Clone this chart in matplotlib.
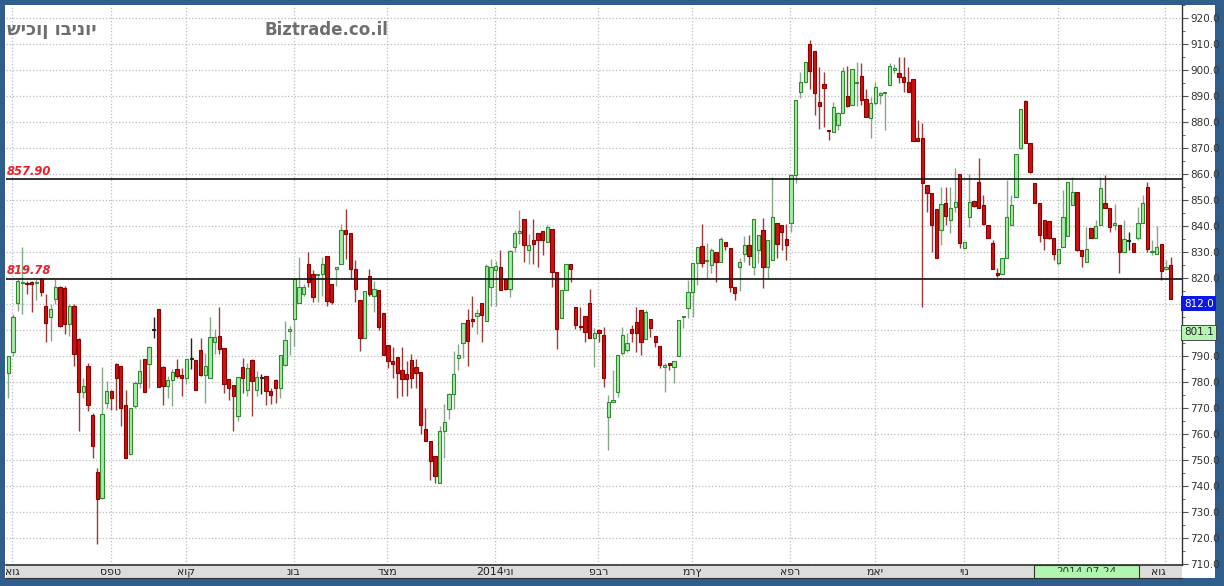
import matplotlib
matplotlib.use('Agg')
import matplotlib.pyplot as plt
from matplotlib.patches import Rectangle
from matplotlib.transforms import Bbox, blended_transform_factory
from matplotlib.ticker import MultipleLocator

# daily candles, Aug 2013 - Aug 2014
opens = [
    783.3, 791.7, 810.4, 818.0, 818.0, 818.6, 818.0, 819.7, 809.4, 804.8,
    811.9, 816.5, 816.0, 802.3, 809.4, 796.7, 776.2, 786.1, 767.4, 745.2,
    735.2, 771.9, 776.7, 787.0, 786.1, 771.3, 752.2, 770.6, 779.7, 788.7,
    787.0, 800.0, 808.0, 785.9, 778.4, 780.6, 784.8, 782.5, 781.4, 788.7,
    788.4, 792.3, 782.6, 781.4, 795.2, 797.5, 793.2, 781.2, 779.0, 766.8,
    785.7, 777.1, 788.4, 777.1, 781.4, 782.3, 776.7, 780.6, 777.7, 786.5,
    799.5, 804.2, 810.3, 813.9, 825.5, 821.6, 821.0, 821.6, 828.3, 817.5,
    823.5, 825.5, 838.3, 837.3, 823.5, 811.6, 796.9, 820.6, 813.2, 815.2,
    806.5, 794.3, 788.1, 789.7, 784.5, 783.2, 788.4, 785.8, 783.9, 761.8,
    757.2, 751.5, 741.2, 761.1, 769.5, 775.3, 789.4, 794.8, 803.8, 804.2,
    805.5, 810.3, 803.6, 816.5, 823.0, 824.2, 819.7, 815.8, 831.9, 837.3,
    842.8, 830.6, 834.7, 837.3, 838.0, 833.8, 839.0, 822.2, 804.6, 815.2,
    825.5, 809.0, 801.3, 805.5, 810.3, 797.0, 800.0, 798.0, 766.7, 772.4,
    776.3, 791.0, 792.3, 800.3, 803.2, 807.7, 796.4, 804.1, 797.7, 793.8,
    785.6, 787.4, 785.9, 790.0, 804.9, 808.3, 814.7, 825.6, 832.3, 826.4,
    825.0, 830.1, 826.3, 834.0, 831.4, 816.4, 824.1, 829.2, 832.7, 824.1,
    830.8, 838.5, 824.1, 826.9, 841.3, 840.4, 834.9, 841.3, 859.6, 891.7,
    895.5, 910.0, 907.4, 887.8, 894.6, 876.9, 876.3, 878.8, 883.3, 890.0,
    886.5, 895.0, 897.7, 888.7, 881.4, 887.4, 890.4, 891.2, 894.2, 900.0,
    898.7, 897.4, 895.5, 896.4, 873.7, 873.7, 855.8, 852.8, 846.4, 838.5,
    849.0, 842.3, 847.2, 860.0, 831.4, 843.3, 849.7, 857.0, 848.1, 840.4,
    833.6, 822.0, 821.5, 827.6, 840.4, 851.3, 869.9, 888.2, 871.8, 856.7,
    849.0, 842.3, 842.0, 835.3, 825.6, 831.8, 836.2, 848.1, 853.2, 830.8,
    826.3, 839.1, 835.3, 840.4, 849.0, 846.8, 840.4, 840.4, 830.1, 834.2,
    833.3, 835.3, 841.3, 855.1, 830.0, 829.2, 833.0, 823.6, 825.0,
]
highs = [
    790.0, 806.0, 819.7, 832.0, 819.0, 819.0, 819.7, 820.0, 813.9, 810.0,
    819.7, 817.0, 817.0, 810.0, 810.0, 797.0, 781.6, 787.4, 768.0, 747.0,
    785.7, 780.3, 777.1, 787.4, 786.1, 777.1, 770.0, 780.3, 788.7, 788.7,
    793.9, 804.8, 808.0, 786.1, 782.3, 784.8, 788.7, 785.5, 788.7, 797.1,
    788.4, 797.1, 791.3, 804.8, 800.3, 808.7, 793.2, 781.2, 779.0, 781.9,
    789.4, 787.4, 789.0, 784.2, 783.0, 782.3, 777.7, 781.0, 790.4, 803.5,
    801.6, 819.7, 828.1, 817.7, 830.0, 822.9, 821.6, 828.0, 828.3, 817.5,
    824.2, 840.6, 846.4, 837.3, 827.0, 811.6, 814.9, 823.5, 819.0, 815.2,
    806.5, 794.3, 793.3, 789.7, 793.3, 788.1, 790.7, 788.8, 783.9, 770.1,
    757.2, 751.5, 763.0, 771.4, 775.9, 792.0, 794.6, 802.5, 808.1, 813.2,
    808.1, 810.3, 825.5, 827.4, 826.7, 830.6, 819.7, 830.6, 838.3, 846.0,
    842.8, 837.0, 842.8, 837.3, 838.0, 840.3, 839.0, 822.2, 815.4, 825.5,
    825.5, 809.0, 809.0, 805.5, 815.8, 800.6, 800.3, 801.3, 775.0, 784.6,
    790.4, 801.3, 798.7, 801.9, 808.9, 807.7, 807.7, 804.1, 797.7, 793.8,
    787.2, 787.4, 788.2, 803.8, 805.4, 819.2, 825.9, 832.1, 840.8, 833.3,
    831.4, 830.1, 835.6, 834.0, 831.4, 816.4, 827.6, 836.2, 836.5, 842.6,
    836.5, 843.0, 834.6, 858.7, 841.3, 840.4, 840.8, 859.6, 888.5, 899.4,
    903.2, 911.5, 907.4, 901.0, 899.4, 876.9, 887.8, 884.0, 901.3, 901.5,
    900.3, 903.2, 902.8, 892.6, 889.7, 895.5, 891.7, 891.7, 902.6, 902.3,
    905.1, 905.1, 901.0, 896.4, 880.8, 879.5, 855.8, 852.8, 846.4, 855.1,
    855.1, 855.1, 862.2, 860.0, 834.0, 860.0, 849.7, 866.0, 851.9, 840.4,
    834.6, 823.7, 827.6, 857.7, 851.9, 867.7, 884.9, 888.5, 871.8, 856.7,
    849.0, 842.3, 842.0, 835.3, 831.0, 853.8, 857.0, 859.0, 853.2, 830.8,
    839.7, 839.1, 842.3, 859.0, 859.6, 846.8, 848.5, 840.4, 842.3, 837.8,
    833.3, 847.4, 851.9, 857.0, 834.6, 840.0, 833.0, 826.9, 828.0,
]
lows = [
    773.9, 790.0, 807.4, 806.0, 813.9, 807.0, 811.7, 813.0, 795.2, 795.8,
    810.0, 801.0, 798.4, 797.7, 786.0, 761.0, 773.9, 768.7, 750.9, 717.7,
    735.0, 770.0, 769.4, 769.4, 762.9, 750.6, 752.0, 770.0, 777.7, 776.2,
    777.7, 797.1, 778.1, 771.3, 773.9, 770.6, 781.6, 774.5, 779.3, 784.8,
    777.1, 782.3, 771.9, 781.4, 790.9, 790.6, 775.8, 773.2, 761.0, 764.8,
    775.8, 774.5, 766.8, 774.5, 775.2, 771.3, 771.6, 771.9, 773.9, 786.0,
    790.4, 794.0, 810.3, 813.2, 816.4, 810.7, 810.7, 813.2, 809.4, 810.0,
    817.1, 825.5, 827.4, 819.7, 810.7, 792.0, 796.9, 813.2, 806.8, 800.0,
    790.4, 785.3, 781.7, 774.0, 774.6, 774.6, 777.8, 777.8, 759.8, 757.2,
    742.4, 741.2, 741.2, 750.8, 765.6, 769.5, 784.5, 789.4, 786.2, 801.0,
    798.4, 795.2, 803.6, 809.4, 809.4, 815.2, 815.2, 812.6, 830.0, 833.2,
    826.1, 825.5, 825.5, 824.2, 828.7, 833.8, 816.4, 792.6, 804.6, 815.2,
    818.4, 800.4, 799.8, 795.2, 797.1, 785.6, 795.5, 778.2, 753.8, 772.4,
    774.4, 790.4, 791.7, 795.5, 791.7, 790.4, 796.4, 797.4, 793.6, 785.3,
    776.3, 784.6, 779.5, 790.0, 800.6, 804.5, 805.1, 817.3, 824.4, 819.9,
    821.8, 818.6, 826.3, 830.8, 814.7, 811.5, 815.1, 826.3, 825.0, 821.2,
    825.6, 816.0, 819.9, 826.9, 827.6, 830.8, 826.9, 837.8, 856.4, 889.1,
    895.5, 892.6, 882.7, 877.2, 878.2, 873.1, 876.3, 876.9, 883.3, 885.9,
    886.5, 886.0, 886.5, 881.8, 873.7, 886.5, 886.9, 876.9, 894.2, 898.7,
    894.9, 891.7, 891.7, 872.8, 872.7, 809.0, 845.5, 830.1, 827.6, 832.7,
    840.4, 837.2, 845.5, 831.4, 831.4, 839.5, 847.4, 846.8, 840.4, 835.3,
    823.3, 820.3, 821.5, 827.6, 840.4, 851.3, 869.6, 871.8, 860.3, 848.7,
    834.0, 830.8, 835.0, 826.9, 825.0, 831.8, 836.2, 848.1, 830.5, 824.4,
    826.3, 835.3, 835.3, 840.4, 846.8, 837.8, 838.5, 821.8, 830.1, 830.8,
    830.1, 834.6, 841.3, 830.1, 828.8, 829.2, 819.2, 823.1, 812.0,
]
closes = [
    790.0, 805.1, 818.8, 818.4, 817.5, 817.8, 818.5, 814.5, 802.6, 808.0,
    816.5, 801.6, 802.3, 809.1, 790.6, 776.2, 778.6, 771.0, 755.2, 734.9,
    767.8, 776.7, 773.9, 781.4, 770.0, 750.6, 770.0, 779.7, 784.2, 776.2,
    793.6, 800.0, 778.1, 778.4, 780.6, 783.8, 782.3, 781.4, 788.7, 788.7,
    777.1, 782.5, 786.0, 797.4, 797.4, 792.6, 779.3, 777.7, 774.5, 781.9,
    781.6, 785.5, 780.3, 781.9, 781.4, 776.7, 774.9, 777.7, 790.4, 796.2,
    800.5, 819.7, 816.5, 816.7, 818.4, 812.6, 821.6, 825.5, 811.3, 810.7,
    824.2, 838.3, 837.0, 823.5, 815.8, 796.9, 814.9, 813.9, 815.8, 801.3,
    790.4, 788.1, 786.8, 783.6, 781.1, 781.1, 781.7, 783.6, 763.4, 757.2,
    749.5, 743.7, 761.1, 764.7, 775.3, 783.0, 790.4, 802.5, 795.8, 803.5,
    806.5, 805.8, 824.8, 824.2, 824.8, 815.2, 815.8, 830.3, 837.3, 838.0,
    832.5, 832.5, 833.2, 834.7, 834.5, 839.6, 822.2, 800.4, 815.4, 825.5,
    823.5, 802.0, 801.0, 799.1, 797.1, 799.0, 798.7, 781.4, 772.4, 773.0,
    790.4, 798.0, 794.9, 799.0, 798.7, 795.5, 807.1, 800.6, 795.5, 786.5,
    786.5, 786.5, 788.2, 803.8, 805.4, 814.7, 825.9, 832.1, 825.9, 827.1,
    830.8, 826.3, 834.9, 832.3, 816.4, 814.4, 826.3, 832.7, 828.5, 842.6,
    836.5, 824.1, 834.6, 843.6, 833.0, 837.6, 832.7, 859.6, 888.5, 895.5,
    903.2, 899.7, 891.0, 886.2, 892.9, 876.5, 885.9, 883.3, 899.7, 886.2,
    900.3, 895.2, 888.5, 882.0, 887.4, 893.3, 891.0, 891.4, 901.5, 900.6,
    897.4, 895.5, 891.7, 872.8, 872.7, 856.4, 852.6, 840.4, 827.6, 848.5,
    843.8, 846.8, 849.4, 833.3, 834.0, 849.4, 847.8, 846.8, 840.8, 835.3,
    823.3, 821.2, 827.6, 843.3, 848.1, 867.7, 884.9, 871.8, 860.9, 848.7,
    836.5, 835.3, 835.3, 829.2, 831.0, 843.3, 857.0, 853.2, 830.8, 828.5,
    831.0, 835.3, 840.0, 854.5, 846.8, 839.7, 841.0, 830.1, 834.9, 834.2,
    830.1, 841.0, 849.0, 831.0, 830.5, 832.1, 822.8, 824.4, 812.0,
]

month_starts = [1, 22, 38, 61, 81, 104, 126, 146, 167, 185, 204, 224, 247]
month_labels = ['אוג', 'ספט', 'אוק', 'נוב', 'דצמ', '2014ינו', 'פבר', 'מרץ',
                'אפר', 'מאי', 'יונ', 'יול', 'אוג']
levels = [857.90, 819.78]
last_price = 812.0
ma_value = 801.1
cursor_date = '2014-07-24'

W, H = 1224, 586
BLUE = '#2f5d8c'
fig = plt.figure(figsize=(W / 100, H / 100), dpi=100, facecolor=BLUE)
fig.add_artist(Rectangle((5 / W, 8 / H), 1210 / W, 573 / H, transform=fig.transFigure,
                         facecolor='white', edgecolor='none', zorder=-10))

ax = fig.add_axes([6 / W, 21 / H, 1176 / W, 560 / H])
ax.set_facecolor('white')
n = len(closes)

for i in range(n):
    o, h, l, c = opens[i], highs[i], lows[i], closes[i]
    if abs(c - o) < 0.05:
        face, edge, wick = '#222222', '#222222', '#222222'
    elif c > o:
        face, edge, wick = '#a6eaa6', '#2e8b2e', '#86a886'
    else:
        face, edge, wick = '#cc1111', '#8e0000', '#9a3a3a'
    ax.vlines(i, l, h, color=wick, lw=1, zorder=2)
    ax.bar(i, max(abs(c - o), 0.4), bottom=min(o, c), width=0.7,
           color=face, edgecolor=edge, linewidth=0.8, zorder=3)

ax.set_xlim(-0.5, 250.4)
ax.set_ylim(709.6, 925)

for lv in levels:
    ax.axhline(lv, color='#111111', lw=1.2, zorder=4)
    ax.text(0.001, lv + 0.6, '%.2f' % lv,
            transform=blended_transform_factory(ax.transAxes, ax.transData),
            color='#e8202a', fontsize=8.3, fontweight='bold', fontstyle='italic',
            ha='left', va='bottom', zorder=5)

# price scale on the right; the two value boxes sit over the 810 / 800 labels
hidden = (810, 800)
ax.yaxis.tick_right()
ax.yaxis.set_major_locator(MultipleLocator(10))
ax.yaxis.set_minor_locator(MultipleLocator(5))
ax.yaxis.set_major_formatter(
    plt.FuncFormatter(lambda v, p: '' if round(v) in hidden else '%.1f' % v))
ax.tick_params(axis='y', which='major', length=4, width=0.8, color='#555555',
               labelsize=7.5, labelcolor='#333333', pad=2)
ax.tick_params(axis='y', which='minor', length=2, width=0.6, color='#555555')
ax.set_xticks([m - 0.15 for m in month_starts])
ax.tick_params(axis='x', length=0, labelbottom=False)
ax.grid(True, axis='both', which='major', color='#bdbdbd', linestyle=':', lw=0.9)
ax.set_axisbelow(True)
for s in ['left', 'top', 'bottom']:
    ax.spines[s].set_visible(False)
ax.spines['right'].set_color('#333333')
ax.spines['right'].set_linewidth(1)

price_tr = blended_transform_factory(ax.transAxes, ax.transData)
ax.text(1.0015, last_price, '%.1f' % last_price, transform=price_tr,
        color='white', fontsize=7.5, ha='left', va='top', clip_on=False, zorder=6,
        bbox=dict(boxstyle='square,pad=0.25', facecolor='#0b18e6', edgecolor='none'))
ax.text(1.0015, ma_value, '%.1f' % ma_value, transform=price_tr,
        color='#222222', fontsize=7.5, ha='left', va='top', clip_on=False, zorder=6,
        bbox=dict(boxstyle='square,pad=0.25', facecolor='#b4f5b4', edgecolor='#333333', linewidth=0.6))

# month strip
strip = fig.add_axes([6 / W, 8 / H, 1176 / W, 13 / H], sharex=ax)
strip.set_facecolor('#dcdcdc')
strip.set_ylim(0, 1)
strip.set_yticks([])
strip.tick_params(axis='x', length=0, labelbottom=False)
for s in ['left', 'right']:
    strip.spines[s].set_visible(False)
strip.spines['top'].set_color('#333333')
strip.spines['top'].set_linewidth(1.2)
strip.spines['bottom'].set_color('#333333')
for k, (m, lab) in enumerate(zip(month_starts, month_labels)):
    if k == len(month_starts) - 2:
        continue  # hidden under the date box
    ha = 'right' if k == len(month_starts) - 1 else 'center'
    strip.text(m - 0.15, 0.45, lab, ha=ha, va='center', fontsize=7.8, color='#222222', zorder=2)
strip.add_patch(Rectangle((1034 / W, 8 / H), 105 / W, 13 / H, transform=fig.transFigure,
                          facecolor='#b0f5b0', edgecolor='#333333', linewidth=0.8, zorder=5))
t = fig.text(1086 / W, 19 / H, cursor_date, ha='center', va='top', fontsize=7.5,
             color='#333333', zorder=6)
t.set_clip_box(Bbox([[1034, 14.5], [1139, 19]]))
t.set_clip_on(True)

fig.text(7 / W, 1 - 30 / H, 'שיכון ובינוי', fontsize=13, fontweight='bold',
         color='#6e6e6e', ha='left', va='center')
fig.text(265 / W, 1 - 30 / H, 'Biztrade.co.il', fontsize=12, fontweight='bold',
         color='#6e6e6e', ha='left', va='center')

fig.savefig('out.png', dpi=100, facecolor=BLUE)
